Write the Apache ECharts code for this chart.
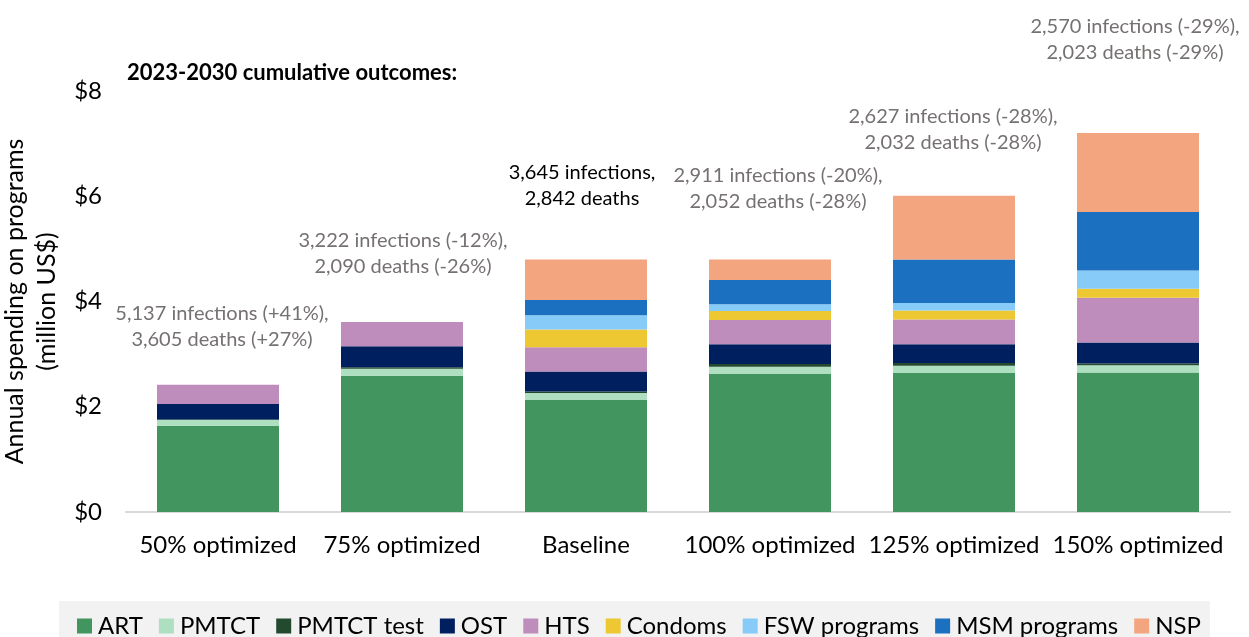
<!DOCTYPE html>
<html>
<head>
<meta charset="utf-8">
<title>Annual spending on programs</title>
<script src="https://cdn.jsdelivr.net/npm/echarts@6/dist/echarts.min.js"></script>
<style>
  html, body { margin: 0; padding: 0; background: #fff; }
  #chart { width: 1249px; height: 637px; }
</style>
</head>
<body>
<div id="chart"></div>
<script>
// 分类
const categories = ['50% optimized', '75% optimized', 'Baseline', '100% optimized', '125% optimized', '150% optimized']

// 各项目支出 (million US$)
const art = [1.64, 2.59, 2.13, 2.62, 2.64, 2.65]
const pmtct = [0.11, 0.13, 0.13, 0.14, 0.14, 0.14]
const pmtctTest = [0.01, 0.03, 0.03, 0.05, 0.05, 0.03]
const ost = [0.29, 0.40, 0.38, 0.38, 0.36, 0.40]
const hts = [0.37, 0.46, 0.46, 0.46, 0.47, 0.85]
const condoms = [0, 0, 0.34, 0.17, 0.17, 0.17]
const fsw = [0, 0, 0.27, 0.13, 0.14, 0.35]
const msm = [0, 0, 0.29, 0.46, 0.83, 1.11]
const nsp = [0, 0, 0.77, 0.39, 1.21, 1.50]

// 2023-2030 累计结果
const outcomes = [
  ['5,137 infections (+41%),', '3,605 deaths (+27%)'],
  ['3,222 infections (-12%),', '2,090 deaths (-26%)'],
  ['3,645 infections,', '2,842 deaths'],
  ['2,911 infections (-20%),', '2,052 deaths (-28%)'],
  ['2,627 infections (-28%),', '2,032 deaths (-28%)'],
  ['2,570 infections (-29%),', '2,023 deaths (-29%)']
]

const seriesList = [
  { name: 'ART', data: art, color: '#43955f' },
  { name: 'PMTCT', data: pmtct, color: '#addfc0' },
  { name: 'PMTCT test', data: pmtctTest, color: '#23492f' },
  { name: 'OST', data: ost, color: '#001f5f' },
  { name: 'HTS', data: hts, color: '#bf8dbb' },
  { name: 'Condoms', data: condoms, color: '#edc832' },
  { name: 'FSW programs', data: fsw, color: '#87cbf9' },
  { name: 'MSM programs', data: msm, color: '#1b71c0' },
  { name: 'NSP', data: nsp, color: '#f2a57e' }
]

const font = 'Lato, "Open Sans", sans-serif'
const chart = echarts.init(document.getElementById('chart'), null, { renderer: 'canvas' })

const option = {
  animation: false,
  textStyle: { fontFamily: font },
  grid: { left: 126, right: 19, top: 91, bottom: 125, outerBoundsMode: 'none', containLabel: false },
  legend: {
    top: 601,
    left: 59,
    itemWidth: 15,
    itemHeight: 15,
    itemGap: 16,
    icon: 'rect',
    backgroundColor: '#f2f2f2',
    padding: [13, 9, 14, 18],
    textStyle: { fontSize: 24, color: '#000', fontFamily: font, padding: [0, 0, 0, 1] },
    data: seriesList.map(s => s.name)
  },
  xAxis: {
    type: 'category',
    data: categories,
    axisTick: { show: false },
    axisLine: { lineStyle: { color: '#d9d9d9', width: 2 } },
    axisLabel: { fontSize: 24, color: '#000', margin: 21, fontFamily: font, interval: 0 }
  },
  yAxis: {
    type: 'value',
    min: 0,
    max: 8,
    interval: 2,
    name: 'Annual spending on programs\n(million US$)',
    nameLocation: 'middle',
    nameGap: 53,
    nameTextStyle: { fontSize: 25, color: '#000', lineHeight: 32, fontFamily: font },
    splitLine: { show: false },
    axisLine: { show: false },
    axisLabel: { fontSize: 24, color: '#000', margin: 24, fontFamily: font, formatter: v => '$' + v }
  },
  series: seriesList.map(s => ({
    name: s.name,
    type: 'bar',
    stack: 'total',
    barWidth: 122,
    data: s.data,
    itemStyle: { color: s.color }
  }))
}
chart.setOption(option)

// 注释文字: 相对柱子顶端的偏移 [x, 向上距离]
const annotOffset = [
  [4, 58], [1, 68], [-4, 74], [8, 71], [-1, 66], [-3, 94]
]
const totals = categories.map((c, i) => seriesList.reduce((sum, s) => sum + s.data[i], 0))
const graphics = outcomes.map((lines, i) => {
  const p = chart.convertToPixel({ gridIndex: 0 }, [i, totals[i]])
  return {
    type: 'text',
    x: p[0] + annotOffset[i][0],
    y: p[1] - annotOffset[i][1],
    style: {
      text: lines.join('\n'),
      font: '20px ' + font,
      lineHeight: 26,
      fill: i === 2 ? '#000' : '#767171',
      align: 'center',
      verticalAlign: 'middle'
    }
  }
})
graphics.push({
  type: 'text',
  left: 127,
  top: 62,
  style: {
    text: '2023-2030 cumulative outcomes:',
    font: 'bold 22px ' + font,
    fill: '#000'
  }
})
chart.setOption({ graphic: graphics })
</script>
</body>
</html>
